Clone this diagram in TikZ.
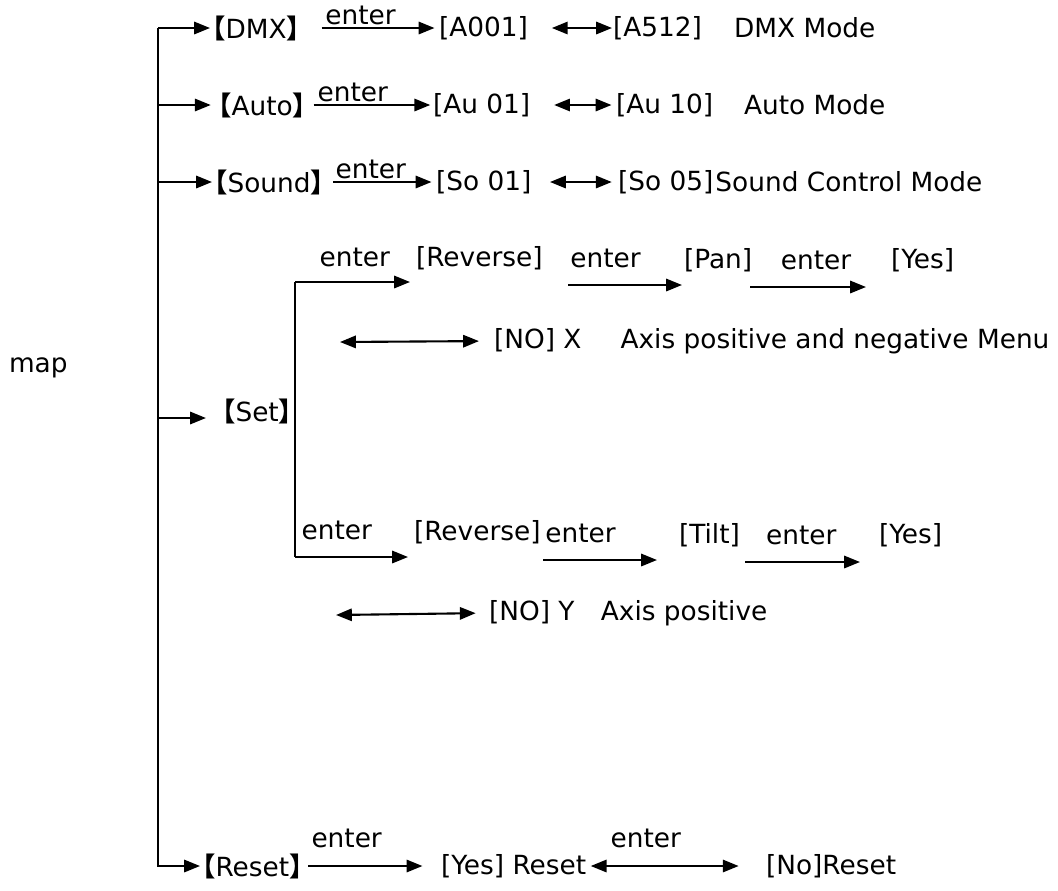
\documentclass[tikz,border=0pt]{standalone}
\usepackage{fontspec}
\setmainfont{DejaVu Sans}
\newfontfamily\cjkfont{Noto Sans CJK SC}
\usetikzlibrary{arrows.meta,positioning}

\newcommand{\lbk}{{\cjkfont\bfseries\kern-.45em【}}
\newcommand{\rbk}{{\cjkfont\bfseries】\kern-.45em}}

\begin{document}
\begin{tikzpicture}[x=0.02cm,y=-0.02cm,line width=1.2pt,
    >={Triangle[length=9pt,width=7pt]},
    every node/.style={inner sep=0pt,anchor=west,font=\fontsize{15}{18}\selectfont},
    lbl/.style={above=#1,anchor=south}]
    \useasboundingbox (0,0) rectangle (1058,890);

    \node (map) at (8,368) {map};

    % trunk
    \coordinate (trunk_top)  at (158,28);
    \coordinate (trunk_auto) at (158,105);
    \coordinate (trunk_snd)  at (158,182);
    \coordinate (trunk_set)  at (158,418);
    \coordinate (trunk_bot)  at (158,866);

    % DMX
    \node (dmx_key)   at (210,28)  {\lbk DMX\rbk};
    \node (a_001)     at (438,28)  {[A001]};
    \node (a_512)     at (612,28)  {[A512]};
    \node (dmx_mode)  at (733,28)  {DMX Mode};

    % Auto
    \node (auto_key)  at (216,105) {\lbk Auto\rbk};
    \node (au_01)     at (432,105) {[Au 01]};
    \node (au_10)     at (615,105) {[Au 10]};
    \node (auto_mode) at (743,105) {Auto Mode};

    % Sound
    \node (snd_key)   at (212,182) {\lbk Sound\rbk};
    \node (so_01)     at (435,182) {[So 01]};
    \node (so_05)     at (617,182) {[So 05]};
    \node (snd_mode)  [right=0pt of so_05] {Sound Control Mode};

    % Set
    \node (set_key)   at (220,411) {\lbk Set\rbk};
    \coordinate (pan_branch)  at (295,282);
    \coordinate (pan_in)      at (410,282);
    \coordinate (tilt_branch) at (295,557);
    \coordinate (tilt_in)     at (408,557);

    \node (rev_pan)   at (415,258) {[Reverse]};
    \node (pan)       at (683,260) {[Pan]};
    \node (yes_pan)   at (890,260) {[Yes]};
    \coordinate (rev_pan_a) at (568,285);
    \coordinate (rev_pan_b) at (682,285);
    \coordinate (pan_yes_a) at (750,287);
    \coordinate (pan_yes_b) at (866,287);
    \coordinate (x_left)    at (340,342);
    \node (no_x)      at (493,341) {[NO] X\quad\, Axis positive and negative Menu};

    \node (rev_tilt)  at (413,532) {[Reverse]};
    \node (tilt)      at (678,535) {[Tilt]};
    \node (yes_tilt)  at (878,535) {[Yes]};
    \coordinate (rev_tilt_a)  at (543,560);
    \coordinate (rev_tilt_b)  at (657,560);
    \coordinate (tilt_yes_a)  at (745,562);
    \coordinate (tilt_yes_b)  at (860,562);
    \coordinate (y_left)      at (336,615);
    \node (no_y)      at (488,613) {[NO] Y\quad Axis positive};

    % Reset
    \node (reset_key) at (200,866) {\lbk Reset\rbk};
    \node (yes_reset) at (440,866) {[Yes] Reset};
    \node (no_reset)  at (765,866) {[No]Reset};

    \draw[->] (trunk_top) -- (trunk_bot) -- (reset_key);
    \draw (pan_branch) -- (tilt_branch);
    \draw[->,shorten >=8pt] (trunk_set) -- (trunk_set -| set_key.west);

    \path[->]
    (trunk_top) edge (dmx_key)
    (trunk_auto) edge [shorten >=3pt] (auto_key)
    (trunk_snd) edge (snd_key)
    (dmx_key) edge [shorten <=11pt, shorten >=2pt] node[lbl=1pt, pos=0.43] {enter} (a_001)
    (auto_key) edge [shorten <=3pt, shorten >=1pt] node[lbl=1pt, pos=0.36] {enter} (au_01)
    (snd_key) edge [shorten <=4pt, shorten >=2pt] node[lbl=1pt, pos=0.41] {enter} (so_01)
    (pan_branch) edge node[lbl=8pt, pos=0.52] {enter} (pan_in)
    (rev_pan_a) edge node[lbl=9pt, pos=0.33] {enter} (rev_pan_b)
    (pan_yes_a) edge node[lbl=9pt, pos=0.57] {enter} (pan_yes_b)
    (tilt_branch) edge node[lbl=9pt, pos=0.37] {enter} (tilt_in)
    (rev_tilt_a) edge node[lbl=9pt, pos=0.33] {enter} (rev_tilt_b)
    (tilt_yes_a) edge node[lbl=9pt, pos=0.49] {enter} (tilt_yes_b)
    (reset_key) edge [shorten <=2pt, shorten >=10pt] node[lbl=10pt, pos=0.31] {enter} (yes_reset)
    ;

    \path[<->]
    (a_001) edge [shorten <=13pt, shorten >=0pt] (a_512)
    (au_01) edge [shorten <=13pt, shorten >=2pt] (au_10)
    (so_01) edge [shorten <=10pt, shorten >=3pt] (so_05)
    (x_left) edge [shorten >=8pt] (no_x.west)
    (y_left) edge [shorten >=7pt] (no_y.west)
    (yes_reset) edge [shorten <=2pt, shorten >=15pt] node[lbl=10pt, pos=0.33] {enter} (no_reset)
    ;

  \end{tikzpicture}
\end{document}
